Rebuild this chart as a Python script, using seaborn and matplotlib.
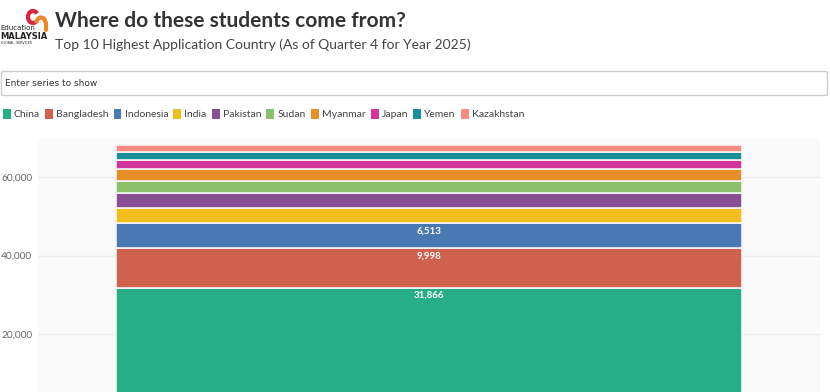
import matplotlib
matplotlib.use("Agg")
import matplotlib.pyplot as plt
from matplotlib.patches import Patch, FancyBboxPatch, Arc
import seaborn as sns
import pandas as pd

# Data (applications by country, Q4 2025)
countries = ["China", "Bangladesh", "Indonesia", "India", "Pakistan",
             "Sudan", "Myanmar", "Japan", "Yemen", "Kazakhstan"]
applications = [31866, 9998, 6513, 3830, 3650, 3240, 3070, 2200, 2040, 1790]
colors = ["#27ae86", "#d1614f", "#4a78b3", "#f3be1b", "#894f95",
          "#8dc06a", "#e88e27", "#d3359a", "#1b8f99", "#fa8a80"]
labelled = ["China", "Bangladesh", "Indonesia"]

sns.set_theme(style="white")
plt.rcParams["font.family"] = ["Lato", "DejaVu Sans"]

df = pd.DataFrame({"country": countries, "applications": applications, "x": 0})
palette = dict(zip(countries, colors))

fig = plt.figure(figsize=(8.3, 3.92), dpi=100)
W, H = 830, 392
# plot area runs past the bottom edge, like the cropped reference
ax = fig.add_axes([38 / W, (H - 412.6) / H, 782 / W, 274.6 / H])
ax.set_facecolor("#fafafa")

# seaborn stacks the first hue level on top, so reverse the order
sns.histplot(data=df, x="x", weights="applications", hue="country",
             hue_order=countries[::-1], palette=palette, multiple="stack",
             discrete=True, shrink=0.8, alpha=1, edgecolor="#f4f4f4",
             linewidth=1.2, legend=False, ax=ax)

ax.set_xlim(-0.5, 0.5)
ax.set_ylim(0, 70000)
ax.set_yticks([20000, 40000, 60000])
ax.set_yticklabels([f"{v:,}" for v in [20000, 40000, 60000]],
                   fontsize=7.3, color="#666666")
ax.tick_params(axis="y", length=0, pad=4)
ax.set_xticks([])
ax.set_xlabel("")
ax.set_ylabel("")
ax.yaxis.grid(True, color="#ebebeb", linewidth=1)
ax.set_axisbelow(True)
for s in ax.spines.values():
    s.set_visible(False)

# value labels inside the top of the three biggest segments
running = 0
for name, val in zip(countries, applications):
    running += val
    if name in labelled:
        ax.annotate(f"{val:,}", (0, running), xytext=(0, -8),
                    textcoords="offset pixels", ha="center", va="center",
                    fontsize=7, fontweight="bold", color="white")

# titles
fig.text(55 / W, 1 - 21 / H, "Where do these students come from?",
         fontsize=15, fontweight="bold", color="#333333", va="center")
fig.text(55 / W, 1 - 44.5 / H,
         "Top 10 Highest Application Country (As of Quarter 4 for Year 2025)",
         fontsize=10, color="#444444", va="center")

# logo
fig.text(0.5 / W, 1 - 28.5 / H, "Education", fontsize=5, color="#222222",
         va="center", family=["Liberation Sans Narrow", "DejaVu Sans"])
fig.text(0.5 / W, 1 - 36.5 / H, "MALAYSIA", fontsize=6, fontweight="bold",
         color="#222222", va="center", family=["DejaVu Sans"])
fig.text(0.5 / W, 1 - 42.5 / H, "GLOBAL  SERVICES", fontsize=2.3,
         color="#222222", va="center", family=["DejaVu Sans"])
lax = fig.add_axes([24 / W, 1 - 33 / H, 26 / W, 26 / H])
lax.set_xlim(0, 26)
lax.set_ylim(0, 26)
lax.axis("off")
lax.add_patch(Arc((9, 16), 10, 12, theta1=40, theta2=300, color="#d7263d", lw=3))
lax.add_patch(Arc((17, 10), 9, 11, theta1=0, theta2=180, color="#f0862a", lw=3))
lax.plot([21.5, 21.5], [10, 3], color="#f0862a", lw=3, solid_capstyle="round")

# search box
box = FancyBboxPatch((1.5 / W, 1 - 95.5 / H), 826 / W, 24 / H,
                     boxstyle="round,pad=0,rounding_size=0.003",
                     transform=fig.transFigure, facecolor="white",
                     edgecolor="#cccccc", linewidth=1)
fig.patches.append(box)
fig.text(5 / W, 1 - 83.5 / H, "Enter series to show", fontsize=6.5,
         color="#333333", va="center",
         family=["Liberation Sans Narrow", "DejaVu Sans"])

# legend
handles = [Patch(facecolor=c, edgecolor="none") for c in colors]
fig.legend(handles, countries, loc="center left",
           bbox_to_anchor=(-0.008, 1 - 114 / H), ncol=10, frameon=False,
           fontsize=7.5, handlelength=0.75, handleheight=1.1,
           handletextpad=0.3, columnspacing=0.5, labelcolor="#444444")

fig.savefig("out.png", dpi=100)
